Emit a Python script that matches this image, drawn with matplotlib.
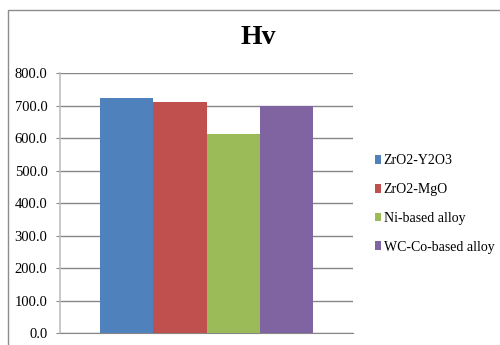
import matplotlib
matplotlib.use("Agg")
import matplotlib.pyplot as plt
from matplotlib.patches import Patch, Rectangle

# Vickers hardness of each coating
materials = ["ZrO2-Y2O3", "ZrO2-MgO", "Ni-based alloy", "WC-Co-based alloy"]
hardness = [723.0, 711.5, 613.0, 698.5]
colors = ["#4F81BD", "#C0504D", "#9BBB59", "#8064A2"]
y_ticks = [0, 100, 200, 300, 400, 500, 600, 700, 800]
title = "Hv"

plt.rcParams["font.family"] = ["Liberation Serif", "DejaVu Serif"]

fig = plt.figure(figsize=(5.0, 3.45), dpi=100)
fig.patch.set_facecolor("white")

# chart frame
fig.add_artist(Rectangle((8 / 500, -0.1), 1.2, 1 - 10 / 345 + 0.1,
                         transform=fig.transFigure, fill=False,
                         edgecolor="#8c8c8c", linewidth=1.0))

ax = fig.add_axes([60 / 500, 1 - 333.3 / 345, 293 / 500, 260 / 345])
x = list(range(len(materials)))
ax.bar(x, hardness, width=1.0, color=colors, edgecolor="none", zorder=3)

ax.set_xlim(-1.25, len(materials) - 1 + 1.25)
ax.set_ylim(0, 800)
ax.set_yticks(y_ticks)
ax.set_yticklabels([f"{v:.1f}" for v in y_ticks], fontsize=10.5)
ax.set_xticks([])
ax.yaxis.grid(True, color="#868686", linewidth=1.0, zorder=0)
ax.tick_params(axis="y", length=3, color="#868686", pad=6)
for side in ["top", "right"]:
    ax.spines[side].set_visible(False)
ax.spines["left"].set_color("#bfbfbf")
ax.spines["left"].set_linewidth(1.2)
ax.spines["bottom"].set_color("#868686")

fig.text(258 / 500, 1 - 38 / 345, title, ha="center", va="center",
         fontsize=20, fontweight="bold")

handles = [Patch(facecolor=c, edgecolor="none") for c in colors]
fig.legend(handles, materials, loc="center left",
           bbox_to_anchor=(372 / 500, 1 - 204 / 345), frameon=False,
           fontsize=10, handlelength=0.45, handleheight=0.6,
           handletextpad=0.2, labelspacing=1.13, borderpad=0.2,
           borderaxespad=0.0)

fig.savefig("out.png", dpi=100)
